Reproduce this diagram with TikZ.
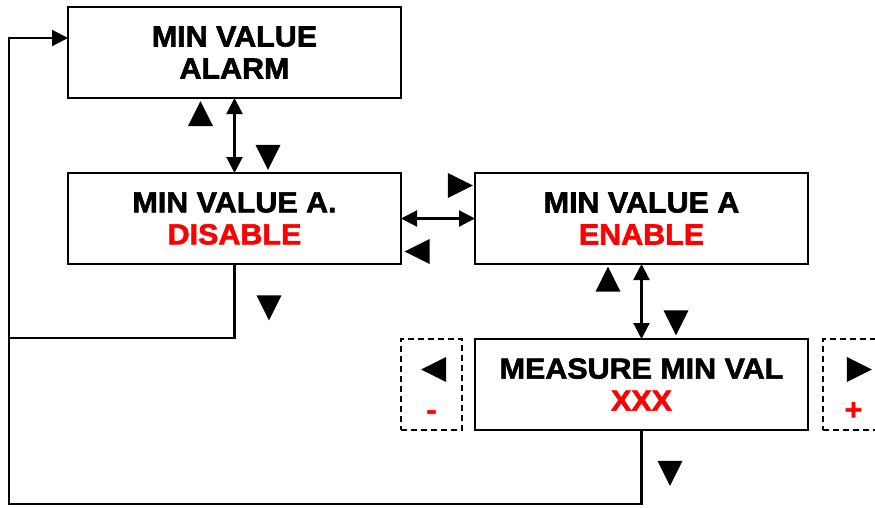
\documentclass[tikz,border=0pt]{standalone}
\usepackage{fontspec}
\setmainfont{Liberation Sans}
\newfontfamily\menufont{Liberation Sans}[BoldFeatures={FakeBold=2, FakeStretch=1.05}]
\usetikzlibrary{arrows.meta,positioning,shapes.geometric,calc}
\definecolor{valred}{HTML}{FF0000}

\begin{document}
\begin{tikzpicture}[x=1pt, y=-1pt,
  menubox/.style={rectangle, draw, line width=2.4pt, outer sep=0pt, minimum width=333pt,
    minimum height=91pt, align=center, font=\menufont\fontsize{29}{32}\selectfont\bfseries},
  keybox/.style={rectangle, draw, dash pattern=on 6pt off 4pt, line width=1.5pt, outer sep=0pt,
    minimum width=61pt, minimum height=91pt},
  tri/.style={isosceles triangle, isosceles triangle stretches, fill, inner sep=0pt,
    minimum width=25pt, minimum height=25pt},
  triup/.style={tri, shape border rotate=90, yshift=-3pt},
  tridown/.style={tri, shape border rotate=270, yshift=3pt},
  trileft/.style={tri, shape border rotate=180, xshift=3pt},
  triright/.style={tri, shape border rotate=0, xshift=-3pt},
  sign/.style={anchor=base, text=valred, font=\menufont\fontsize{29}{32}\selectfont\bfseries},
  wire/.style={line width=2.2pt},
  arr/.style={wire, -{Triangle[length=16pt, width=16pt]}},
  dblarr/.style={wire, {Triangle[length=16pt, width=16pt]}-{Triangle[length=16pt, width=16pt]}},
]
  \useasboundingbox (0,0) rectangle (875,507);

  \node[menubox] (alarm) at (234.5,52.5) {MIN VALUE\\ALARM};
  \node[menubox, below=75pt of alarm] (disable) {MIN VALUE A.\\\textcolor{valred}{DISABLE}};
  \node[menubox, right=74pt of disable] (enable) {MIN VALUE A\\\textcolor{valred}{ENABLE}};
  \node[menubox, below=75pt of enable] (measure) {MEASURE MIN VAL\\\textcolor{valred}{XXX}};

  \node[keybox, left=13pt of measure] (minus) {};
  \node[keybox, right=15pt of measure] (plus) {};

  \draw[dblarr] (alarm) -- (disable);
  \draw[dblarr] (disable) -- (enable);
  \draw[dblarr] (enable) -- (measure);

  \coordinate (rail) at (9,38);
  \draw[arr] (disable.south) -- ++(0,74) -| (rail) -- (rail -| alarm.west);
  \draw[wire] (measure.south) -- ++(0,74) -| (rail);

  \node[triup] (upA) at ($(alarm.south)+(-34,17.5)$) {};
  \node[tridown] (downA) at ($(alarm.south)+(33.5,57.5)$) {};
  \node[triright] (rightB) at ($(disable.north east)+(57.5,12.5)$) {};
  \node[trileft] (leftB) at ($(disable.south east)+(18,-12.5)$) {};
  \node[tridown] (downB) at ($(disable.south)+(34.5,42)$) {};
  \node[triup] (upC) at ($(enable.south)+(-33.5,17)$) {};
  \node[tridown] (downC) at ($(measure.north)+(34.5,-18)$) {};
  \node[tridown] (downD) at ($(measure.south)+(28.5,41.5)$) {};

  \node[trileft] (leftK) at ($(minus.center)+(4,-15)$) {};
  \node[sign] (minusK) at ($(minus.center)+(0,35)$) {-};
  \node[triright] (rightK) at ($(plus.center)+(4,-15)$) {};
  \node[sign] (plusK) at ($(plus.center)+(0,35)$) {+};
\end{tikzpicture}
\end{document}
